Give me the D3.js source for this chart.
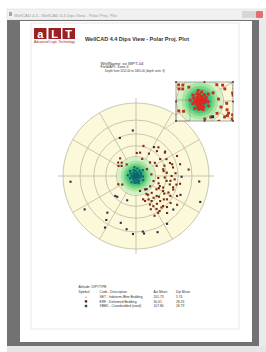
<!DOCTYPE html>
<html>
<head>
<meta charset="utf-8">
<script src="https://cdn.jsdelivr.net/npm/d3@7"></script>
<style>
html, body { margin: 0; padding: 0; background: #fff; overflow: hidden; }
svg { display: block; font-family: "Liberation Sans", Arial, sans-serif; }
</style>
</head>
<body>
<script>
// dip data, [azimuth, dip] in degrees
var setDips = [ // scattered, dark navy
  [356,64],[265,84],[32,50],[237,80],[218,65],[214,72],[211,79],[198,68],[190,73],[183,77],
  [172,77],[159,79],[112,87],[95,82],[113,67],[132,69],[226,43],[337,59],[147,76],[173,75],
  [200,39],[222,42],[91,64],[141,26]
];
var erfDips = [ // brown cluster
  [2,35],[40,48],[51,54],[55,44],[61,51],[69,53],[64,64],[77,55],[75,64],[83,72],
  [307,34],[305,27],[321,23],[46,30],[64,35],[76,42],[84,46],[90,52],[95,56],[99,46],
  [104,51],[102,59],[113,39],[123,37],[137,35],[150,32],[134,43],[152,40],[163,37],[136,51],
  [127,56],[120,57],[138,58],[150,51],[148,56],[146,60],[154,47],[110,57],[116,64],[58,20],
  [84,24],[106,28],[126,27],[146,25],[165,24],[119,46],[117,53],[141,42],[93,43],[141,58],
  [149,61],[130,53],[147,34],[160,40],[148,44],[98,51],[107,56],[113,44],[38,53],[50,55],
  [72,55],[55,35],[80,42],[14,46],[10,36],[135,62],[128,62],[122,49],[108,36],[95,34],
  [70,45],[86,57],[132,46],[143,51],[156,53],[118,39],[100,63],[125,69],[140,67],[155,62],
  [313,30],[300,31],[318,36],[20,28],[30,39],[245,30],[238,25]
];
var xbedDips = [ // near-horizontal beds at the centre
  [0,3],[20,6],[45,4],[60,9],[80,5],[95,11],[110,7],[130,4],[150,9],[170,6],
  [185,3],[200,8],[215,12],[230,5],[250,10],[265,7],[280,4],[295,9],[310,12],[325,6],
  [340,10],[355,8],[10,12],[35,10],[70,2],[120,13],[160,12],[190,11],[240,2],[275,13],
  [300,3],[330,2],[100,3],[140,1],[220,6],[260,4],[50,14],[85,8],[175,10],[350,14]
];

var ringDips = [15, 30, 45, 60, 75, 90];
var spokeAzis = [0, 30, 60, 90, 120, 150, 180, 210, 240, 270, 300, 330];

var headerLines = ["WellName: xx  WPT-04", "Field/API: Zone 4", "Depth from 1152.00 to 1465.00 (depth units: ft)"];
var legendHeads = ["Symbol", "Code - Description", "Azi Mean", "Dip Mean"];
var legendCodes = ["SET - Indeterm./Btm Bedding", "ERF - Deformed Bedding", "XBED - Crossbedded (sand)"];
var legendAzi = ["201.73", "30.41", "107.80"];
var legendDip = ["5.74", "28.26", "18.79"];

var W = 266, H = 352;
var CX = 136, CY = 176, R = 73;

var svg = d3.select("body").append("svg").attr("width", W).attr("height", H);

// ---- window chrome ----
svg.append("rect").attr("x", 0).attr("y", 0).attr("width", W).attr("height", H).attr("fill", "#fff");
svg.append("rect").attr("x", 7).attr("y", 9).attr("width", 259).attr("height", 11).attr("fill", "#f0f0f0").attr("stroke", "#d8d8d8").attr("stroke-width", 0.5);
svg.append("rect").attr("x", 9).attr("y", 12).attr("width", 3).attr("height", 4).attr("fill", "#a5a5a5");
svg.append("text").attr("x", 14).attr("y", 16.5).attr("font-size", 4.2).attr("fill", "#9a9a9a")
   .text("WellCAD 4.4 - WellCAD 4.4 Dips View - Polar Proj. Plot");
[[242, "#d6d6d6"], [249, "#d6d6d6"], [256, "#e27070"]].forEach(function(b) {
  svg.append("rect").attr("x", b[0]).attr("y", 11).attr("width", 7).attr("height", 7).attr("rx", 1).attr("fill", b[1]);
});
svg.append("rect").attr("x", 7).attr("y", 20).attr("width", 252).attr("height", 326).attr("fill", "#727272");
svg.append("rect").attr("x", 259).attr("y", 20).attr("width", 7).attr("height", 326).attr("fill", "#ebebeb");
svg.append("rect").attr("x", 7).attr("y", 346).attr("width", 259).attr("height", 6).attr("fill", "#e6e6e6");
svg.append("rect").attr("x", 20).attr("y", 21).attr("width", 232).attr("height", 321).attr("fill", "#fff");
svg.append("rect").attr("x", 31).attr("y", 23).attr("width", 208).attr("height", 306)
   .attr("fill", "none").attr("stroke", "#dadada").attr("stroke-width", 0.6);

// ---- logo + title ----
var logo = svg.append("g");
[[34, "a"], [48.5, "L"], [62.5, "T"]].forEach(function(l) {
  logo.append("rect").attr("x", l[0]).attr("y", 28).attr("width", 12.5).attr("height", 11).attr("fill", "#9c1f24");
  logo.append("text").attr("x", l[0] + 6.2).attr("y", 37.5).attr("text-anchor", "middle")
      .attr("font-size", 11).attr("font-weight", "bold").attr("fill", "#fff").text(l[1]);
});
logo.append("text").attr("x", 34).attr("y", 43).attr("font-size", 2.6).attr("fill", "#9c1f24")
    .attr("textLength", 41).attr("lengthAdjust", "spacingAndGlyphs").text("Advanced Logic Technology");
svg.append("text").attr("x", 85).attr("y", 40.5).attr("font-size", 4.6).attr("font-weight", "bold").attr("fill", "#333")
   .attr("textLength", 104).attr("lengthAdjust", "spacingAndGlyphs").text("WellCAD 4.4 Dips View - Polar Proj. Plot");

svg.selectAll("text.hdr").data(headerLines).enter().append("text").attr("class", "hdr")
   .attr("x", function(d, i) { return i == 2 ? 105 : 100.5; })
   .attr("y", function(d, i) { return 64.5 + i * 3.7; })
   .attr("font-size", 3.2).attr("fill", "#333")
   .attr("textLength", function(d, i) { return [43, 28, 60][i]; })
   .attr("lengthAdjust", "spacingAndGlyphs")
   .text(function(d) { return d; });

// ---- polar projection (equal angle) ----
var rLin = d3.scaleLinear().domain([0, 1]).range([0, R]);
var rScale = function(dip) { return rLin(Math.tan(dip * Math.PI / 360)); };
var aScale = d3.scaleLinear().domain([0, 360]).range([0, 2 * Math.PI]);
var proj = function(p) {
  var a = aScale(p[0]), r = rScale(p[1]);
  return [r * Math.sin(a), -r * Math.cos(a)];
};

var drawNet = function(g, colors, ptSize) {
  g.append("circle").attr("r", R).attr("fill", "#fbf9da");
  g.selectAll("line.spoke").data(spokeAzis).enter().append("line").attr("class", "spoke")
   .attr("x1", 0).attr("y1", 0)
   .attr("x2", function(d) { var e = (d % 90 == 0) ? 5 : 0; return (R + e) * Math.sin(aScale(d)); })
   .attr("y2", function(d) { var e = (d % 90 == 0) ? 5 : 0; return -(R + e) * Math.cos(aScale(d)); })
   .attr("stroke", "#bfb99e").attr("stroke-width", 0.8);
  g.selectAll("circle.ring").data(ringDips).enter().append("circle").attr("class", "ring")
   .attr("r", rScale).attr("fill", "none").attr("stroke", "#bfb99e").attr("stroke-width", 0.8);

  // density halo round the flat beds
  var dens = d3.contourDensity()
     .x(function(d) { return proj(d)[0] + 100; })
     .y(function(d) { return proj(d)[1] + 100; })
     .size([200, 200]).bandwidth(6.5).thresholds(6)(xbedDips);
  var greens = ["#cdf0c2", "#a2e49c", "#72d486", "#45c078", "#2aa877", "#1c8f78"];
  g.append("g").attr("transform", "translate(-100,-100)")
   .selectAll("path").data(dens).enter().append("path")
   .attr("d", d3.geoPath()).attr("fill", function(d, i) { return greens[Math.min(i, greens.length - 1)]; })
   .attr("opacity", 0.85);

  var series = [[erfDips, colors[1]], [setDips, colors[0]], [xbedDips, colors[2]]];
  series.forEach(function(s) {
    g.append("g").selectAll("rect").data(s[0]).enter().append("rect")
     .attr("x", function(d) { return proj(d)[0] - ptSize / 2; })
     .attr("y", function(d) { return proj(d)[1] - ptSize / 2; })
     .attr("width", ptSize).attr("height", ptSize).attr("fill", s[1]);
  });
};

var plot = svg.append("g").attr("transform", "translate(" + CX + "," + CY + ")");
drawNet(plot, ["#2b2d58", "#7e2812", "#0f6670"], 2.1);

// ---- zoom inset ----
var IX = 176, IY = 82, IW = 57, IH = 39;
svg.append("clipPath").attr("id", "inclip").append("rect").attr("x", IX).attr("y", IY).attr("width", IW).attr("height", IH);
svg.append("line").attr("x1", IX).attr("y1", IY + IH).attr("x2", 164).attr("y2", 129)
   .attr("stroke", "#9fb3d0").attr("stroke-width", 0.5);
var inset = svg.append("g").attr("clip-path", "url(#inclip)");
inset.append("rect").attr("x", IX).attr("y", IY).attr("width", IW).attr("height", IH).attr("fill", "#fdfbea");
var inG = inset.append("g").attr("transform", "translate(200,101) scale(1.2)");
drawNet(inG, ["#2b2d58", "#b8321c", "#e2261c"], 2.4);
svg.append("rect").attr("x", IX).attr("y", IY).attr("width", IW).attr("height", IH)
   .attr("fill", "none").attr("stroke", "#555").attr("stroke-width", 0.5);
svg.append("rect").attr("x", IX).attr("y", 100).attr("width", 14).attr("height", 21)
   .attr("fill", "none").attr("stroke", "#777").attr("stroke-width", 0.4);
[[0, 0], [0.5, 0], [1, 0], [0, 0.5], [1, 0.5], [0, 1], [0.5, 1], [1, 1]].forEach(function(h) {
  svg.append("rect").attr("x", IX + h[0] * IW - 0.8).attr("y", IY + h[1] * IH - 0.8)
     .attr("width", 1.6).attr("height", 1.6).attr("fill", "#333");
});

// ---- legend ----
var leg = svg.append("g").attr("font-size", 3.3).attr("fill", "#333");
leg.append("text").attr("x", 78.5).attr("y", 288).text("Attitude: DIP/TYPE");
var headX = [78.5, 99.5, 153.5, 176];
leg.selectAll("text.lh").data(legendHeads).enter().append("text").attr("class", "lh")
   .attr("x", function(d, i) { return headX[i]; }).attr("y", 293).text(function(d) { return d; });
var rowY = function(i) { return 298 + i * 4.6; };
leg.selectAll("text.lc").data(legendCodes).enter().append("text").attr("class", "lc")
   .attr("x", 99.5).attr("y", function(d, i) { return rowY(i); }).text(function(d) { return d; });
leg.selectAll("text.la").data(legendAzi).enter().append("text").attr("class", "la")
   .attr("x", 153.5).attr("y", function(d, i) { return rowY(i); }).text(function(d) { return d; });
leg.selectAll("text.ld").data(legendDip).enter().append("text").attr("class", "ld")
   .attr("x", 176).attr("y", function(d, i) { return rowY(i); }).text(function(d) { return d; });
var symCol = ["#2b2d58", "#5a2a20", "#1d4d5a"];
leg.append("text").attr("x", 86).attr("y", rowY(0)).attr("text-anchor", "middle").attr("fill", symCol[0]).text("+");
[1, 2].forEach(function(i) {
  leg.append("rect").attr("x", 84.8).attr("y", rowY(i) - 2.4).attr("width", 2.4).attr("height", 2.4).attr("fill", symCol[i]);
});
</script>
</body>
</html>
